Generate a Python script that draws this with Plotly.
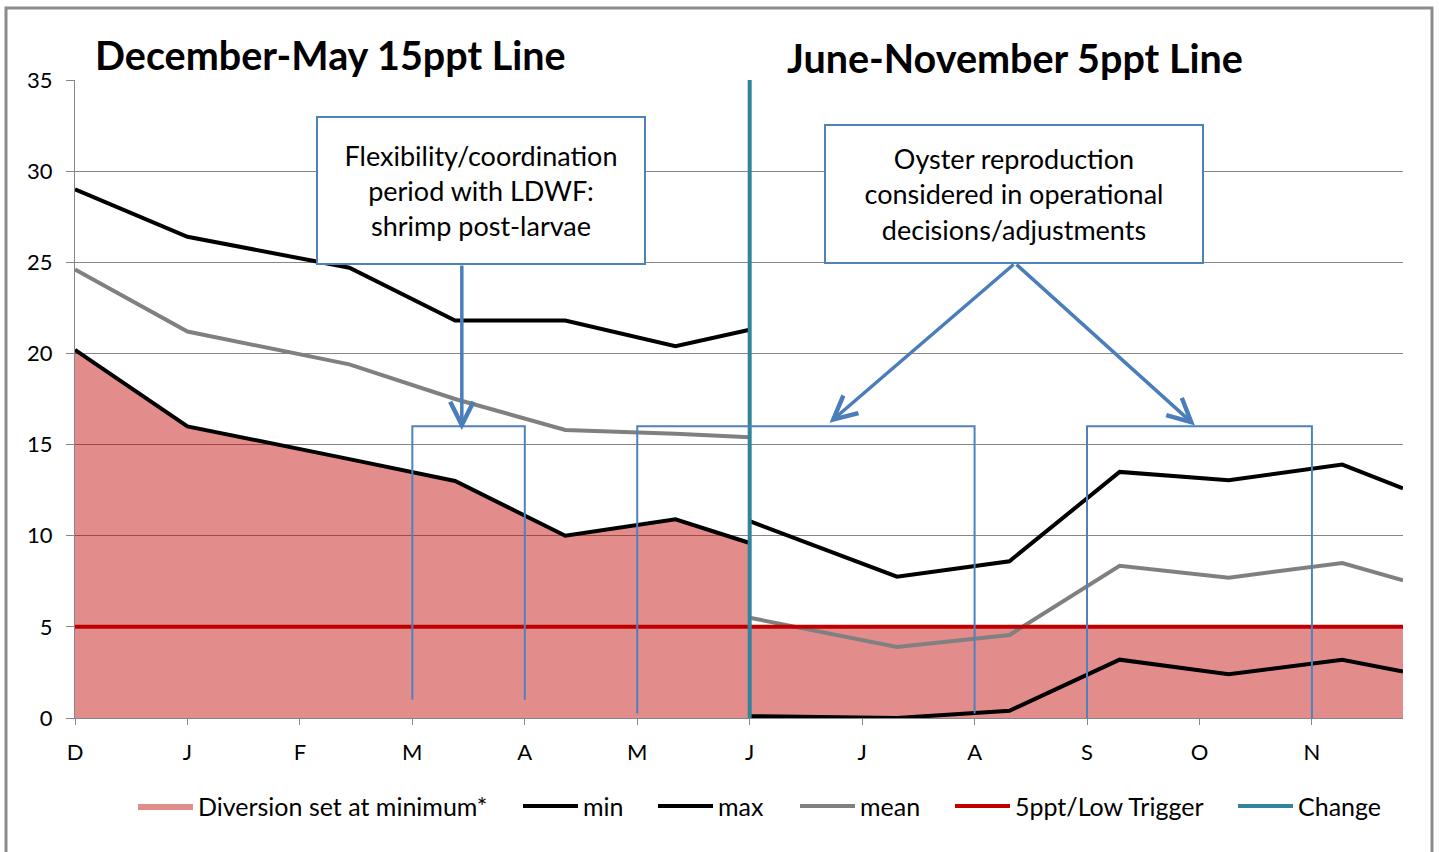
import plotly.graph_objects as go

# ---- data ----
month_labels = ["D", "J", "F", "M", "A", "M", "J", "J", "A", "S", "O", "N"]
month_ticks = list(range(12))

left_x = [0, 1, 2.44, 3.38, 4.36, 5.34, 6.0]
right_x = [6.0, 7.31, 8.31, 9.29, 10.26, 11.27, 11.81]

min_left = [20.2, 16.0, 14.2, 13.0, 10.0, 10.9, 9.6]
max_left = [29.0, 26.4, 24.7, 21.8, 21.8, 20.4, 21.3]
mean_left = [24.6, 21.2, 19.4, 17.5, 15.8, 15.6, 15.4]

min_right = [0.1, 0.0, 0.4, 3.2, 2.4, 3.2, 2.55]
max_right = [10.8, 7.75, 8.6, 13.5, 13.05, 13.9, 12.6]
mean_right = [5.5, 3.9, 4.55, 8.35, 7.7, 8.5, 7.55]

trigger_ppt = 5
change_month = 6.0
x_end = 11.81
y_max = 35

bracket_x0 = [3, 5, 9]
bracket_x1 = [4, 8, 11]
bracket_top = [16, 16, 16]
bracket_bottom = [1.0, 0.25, 0.0]

# ---- figure ----
FONT = "Lato"
PL, PR, PT, PB = 75, 1403, 80, 717.7   # plot area in pixels
PW, PH = PR - PL, PB - PT


def px_x(p):
    return (p - PL) / PW


def px_y(p):
    return (PB - p) / PH


fig = go.Figure()

legend_slots = ["legend", "legend2", "legend3", "legend4", "legend5", "legend6"]

fill_x = left_x + right_x
fill_y = min_left + [trigger_ppt] * len(right_x)
fig.add_trace(go.Scatter(
    x=fill_x, y=fill_y, mode="lines", fill="tozeroy",
    fillcolor="rgba(192,0,0,0.45)", line=dict(width=0, color="rgba(192,0,0,0.45)"),
    name="Diversion set at minimum*", hoverinfo="skip", legend=legend_slots[0]))


def split(lx, ly, rx, ry):
    return lx + [None] + rx, ly + [None] + ry


for i, (name, ly, ry, col) in enumerate([("min", min_left, min_right, "#000000"),
                                         ("max", max_left, max_right, "#000000"),
                                         ("mean", mean_left, mean_right, "#808080")]):
    xs, ys = split(left_x, ly, right_x, ry)
    fig.add_trace(go.Scatter(x=xs, y=ys, mode="lines", name=name,
                             line=dict(color=col, width=4), connectgaps=False,
                             legend=legend_slots[i + 1]))

fig.add_trace(go.Scatter(x=[0, x_end], y=[trigger_ppt, trigger_ppt], mode="lines",
                         name="5ppt/Low Trigger", line=dict(color="#C00000", width=4),
                         legend=legend_slots[4]))
fig.add_trace(go.Scatter(x=[change_month, change_month], y=[0, y_max], mode="lines",
                         name="Change", line=dict(color="#31849B", width=4),
                         legend=legend_slots[5]))

# open-bottom brackets
for x0, x1, yt, yb in zip(bracket_x0, bracket_x1, bracket_top, bracket_bottom):
    fig.add_shape(type="path", xref="x", yref="y",
                  path=f"M {x0},{yb} L {x0},{yt} L {x1},{yt} L {x1},{yb}",
                  line=dict(color="#4F81BD", width=2))

# outer border
fig.add_shape(type="rect", xref="paper", yref="paper",
              x0=px_x(6), x1=px_x(1432), y0=px_y(870), y1=px_y(8),
              line=dict(color="#8C8C8C", width=3), layer="below")

# arrows
arrow_style = dict(showarrow=True, arrowhead=5, arrowsize=1.3, arrowwidth=3.5,
                   arrowcolor="#4A7EBB", axref="x", ayref="y", xref="x", yref="y",
                   text="", standoff=0)
fig.add_annotation(x=3.44, y=15.8, ax=3.44, ay=24.9, **arrow_style)
fig.add_annotation(x=6.71, y=16.2, ax=8.36, ay=24.95, **arrow_style)
fig.add_annotation(x=9.96, y=16.05, ax=8.36, ay=24.95, **arrow_style)

# text boxes
box_style = dict(xref="x", yref="y", showarrow=False, bgcolor="white",
                 bordercolor="#4F81BD", borderwidth=2, borderpad=0,
                 font=dict(family=FONT, size=27, color="#000000"), align="center",
                 xanchor="center", yanchor="middle")
fig.add_annotation(x=3.61, y=28.94, width=326, height=145,
                   text="Flexibility/coordination<br>period with LDWF:<br>shrimp post-larvae",
                   **box_style)
fig.add_annotation(x=8.35, y=28.74, width=376, height=136,
                   text="Oyster reproduction<br>considered in operational<br>decisions/adjustments",
                   **box_style)

# titles
title_font = dict(family=FONT, size=39.5, color="#000000", weight="bold")
fig.add_annotation(xref="paper", yref="paper", x=px_x(330), y=px_y(55),
                   text="<b>December-May 15ppt Line</b>", showarrow=False,
                   font=title_font, xanchor="center", yanchor="middle")
fig.add_annotation(xref="paper", yref="paper", x=px_x(1015), y=px_y(58),
                   text="<b>June-November 5ppt Line</b>", showarrow=False,
                   font=title_font, xanchor="center", yanchor="middle")

legend_starts = [138, 523, 658, 800, 955, 1238]
legend_cfg = {}
for slot, sx in zip(legend_slots, legend_starts):
    legend_cfg[slot] = dict(orientation="h", x=px_x(sx - 5), xanchor="left",
                            y=px_y(806), yanchor="middle",
                            font=dict(family=FONT, size=25, color="#000000"),
                            itemwidth=55, bgcolor="rgba(0,0,0,0)")

fig.update_layout(
    width=1439, height=852,
    margin=dict(l=PL, r=1439 - PR, t=PT, b=852 - PB),
    paper_bgcolor="white", plot_bgcolor="white",
    font=dict(family=FONT, size=22, color="#000000"),
    showlegend=True,
    xaxis=dict(range=[0, x_end], tickvals=month_ticks, ticktext=month_labels,
               showgrid=False, zeroline=False, showline=True, linecolor="#868686",
               linewidth=1, ticks="outside", ticklen=6, tickcolor="#868686",
               tickfont=dict(family=FONT, size=22), ticklabelstandoff=9),
    yaxis=dict(range=[0, y_max], dtick=5, showgrid=True, gridcolor="#868686",
               gridwidth=1, zeroline=False, showline=True, linecolor="#868686",
               ticks="outside", ticklen=8, tickcolor="#868686",
               tickfont=dict(family=FONT, size=22), ticklabelstandoff=9),
    **legend_cfg,
)

fig.write_html("out.html", config={"displayModeBar": False},
               post_script="document.body.style.margin='0';document.body.style.padding='0';")
